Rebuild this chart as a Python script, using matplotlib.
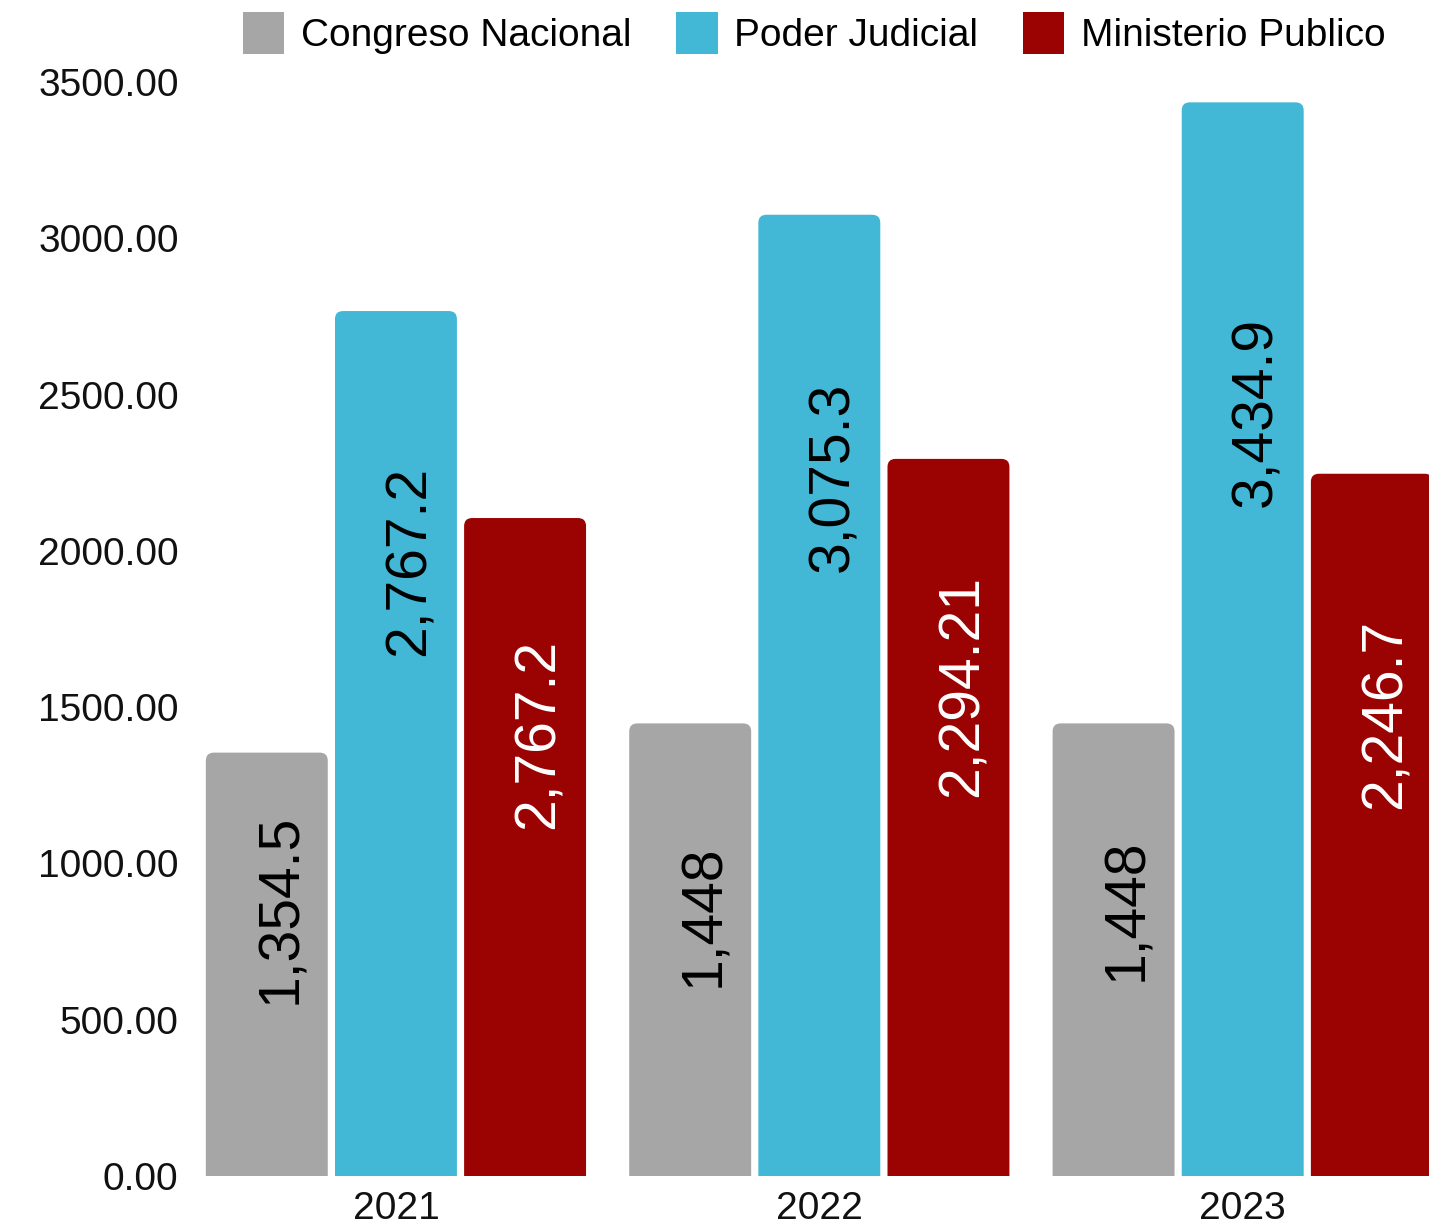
import numpy as np
import matplotlib
matplotlib.use("Agg")
import matplotlib.pyplot as plt
from matplotlib.patches import FancyBboxPatch, Patch
from matplotlib.transforms import offset_copy

plt.rcParams["font.family"] = ["Liberation Sans", "DejaVu Sans"]

years = ["2021", "2022", "2023"]
series = ["Congreso Nacional", "Poder Judicial", "Ministerio Publico"]
congreso = [1354.5, 1448, 1448]
poder_judicial = [2767.2, 3075.3, 3434.9]
ministerio = [2105, 2294.21, 2246.7]
# value labels as printed in the source (2021 Ministerio label repeats 2,767.2)
congreso_labels = ["1,354.5", "1,448", "1,448"]
poder_labels = ["2,767.2", "3,075.3", "3,434.9"]
ministerio_labels = ["2,767.2", "2,294.21", "2,246.7"]
yticks = [0, 500, 1000, 1500, 2000, 2500, 3000, 3500]

colors = ["#A6A6A6", "#42B7D6", "#9B0202"]
label_colors = ["black", "black", "white"]
# label centre as a share of bar height
label_frac = [
    [0.632, 0.576, 0.588],
    [0.711, 0.727, 0.712],
    [0.672, 0.684, 0.658],
]

fig = plt.figure(figsize=(14.29, 12.27), dpi=100)
ax = fig.add_axes([205 / 1429, 1 - 1176 / 1227, 1 - 205 / 1429, (1176 - 82) / 1227])

x = np.arange(len(years))
width = 0.288
step = 0.305
values = [congreso, poder_judicial, ministerio]
labels = [congreso_labels, poder_labels, ministerio_labels]

ax.set_xlim(-0.451, 2.44)
ax.set_ylim(0, 3500)

rx = 0.019
ry = 25.6
txt_tr = offset_copy(ax.transData, fig=fig, x=14, y=0, units="dots")
for i, vals in enumerate(values):
    bars = ax.bar(x + (i - 1) * step, vals, width, color=colors[i])
    for j, rect in enumerate(bars):
        bx, bw, bh = rect.get_x(), rect.get_width(), rect.get_height()
        rect.remove()
        ax.add_patch(FancyBboxPatch(
            (bx, -ry), bw, bh + ry,
            boxstyle=f"round,pad=0,rounding_size={rx}",
            mutation_aspect=ry / rx,
            fc=colors[i], ec="none",
        ))
        ax.text(bx + bw / 2, bh * label_frac[i][j], labels[i][j],
                rotation=90, ha="center", va="center", fontsize=41,
                color=label_colors[i], transform=txt_tr)

ax.set_xticks(x, years)
ax.set_yticks(yticks, [f"{v:.2f}" for v in yticks])
ax.tick_params(axis="both", length=0, labelsize=28, colors="#111111")
ax.tick_params(axis="y", pad=19)
ax.tick_params(axis="x", pad=11)
for s in ax.spines.values():
    s.set_visible(False)

handles = [Patch(facecolor=c, edgecolor="none") for c in colors]
fig.legend(handles, series, loc="center", bbox_to_anchor=(814 / 1429, 1 - 33 / 1227),
           ncol=3, frameon=False, fontsize=28, handlelength=1.07, handleheight=1.3,
           handletextpad=0.42, columnspacing=1.15, borderpad=0, borderaxespad=0)

fig.savefig("out.png", dpi=100)
